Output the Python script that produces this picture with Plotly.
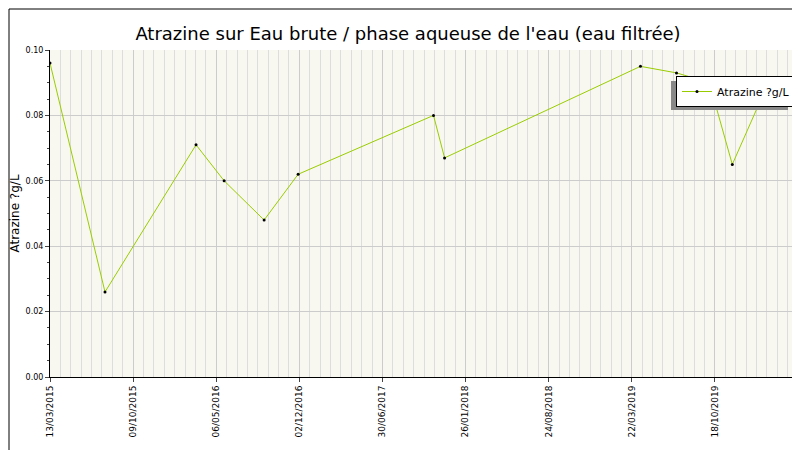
import plotly.graph_objects as go
import pandas as pd

dates = ["2015-03-13","2015-07-30","2016-03-16","2016-05-26","2016-09-04","2016-11-29",
         "2017-11-06","2017-12-04","2019-04-13","2019-07-13","2019-10-04","2019-12-01",
         "2020-03-01","2020-05-15"]
values = [0.096,0.026,0.071,0.060,0.048,0.062,0.080,0.067,0.095,0.093,0.090,0.065,0.090,0.090]
tick_labels = ["13/03/2015","09/10/2015","06/05/2016","02/12/2016","30/06/2017",
               "26/01/2018","24/08/2018","22/03/2019","18/10/2019","15/05/2020"]

tickvals = [pd.to_datetime(t, dayfirst=True) for t in tick_labels]
start, end = pd.Timestamp("2015-03-13"), pd.Timestamp("2020-05-15")
minor = list(pd.date_range(start, end, periods=73))

PW, PH = 748, 327
def px(x): return (x - 42) / PW
def py(y): return (369 - y) / PH

fig = go.Figure()
fig.add_trace(go.Scatter(x=pd.to_datetime(dates), y=values, mode="lines+markers",
    name="Atrazine ?g/L", line=dict(color="#99cc00", width=1),
    marker=dict(color="black", size=3)))
shapes = [
    dict(type="rect", xref="paper", yref="paper", x0=px(1), x1=px(799), y0=py(449), y1=py(1),
         line=dict(color="black", width=1)),
    dict(type="rect", xref="paper", yref="paper", x0=px(663), x1=px(780), y0=py(102), y1=py(73),
         fillcolor="#888888", line=dict(width=0), layer="above"),
]
fig.update_layout(
    width=800, height=450, margin=dict(l=42, r=10, t=42, b=81, autoexpand=False),
    paper_bgcolor="white", plot_bgcolor="#f8f8f0",
    font=dict(family="DejaVu Sans", size=10, color="black"),
    title=dict(text="Atrazine sur Eau brute / phase aqueuse de l'eau (eau filtrée)",
               x=0.5, y=0.958, xanchor="center", font=dict(size=18)),
    xaxis=dict(range=[start, end], tickvals=tickvals, ticktext=tick_labels, tickangle=-90,
               showgrid=True, gridcolor="#cccccc", ticks="outside", ticklen=4, automargin=False,
               minor=dict(tickvals=minor, showgrid=True, gridcolor="#dddddd", ticks=""),
               showline=True, linecolor="black", tickfont=dict(size=9)),
    yaxis=dict(range=[0, 0.1], dtick=0.02, tickformat=".2f", automargin=False,
               title=dict(text="Atrazine ?g/L", font=dict(size=12), standoff=8),
               showgrid=True, gridcolor="#cccccc", ticks="outside", ticklen=4,
               minor=dict(dtick=0.005, ticks="outside", ticklen=2),
               showline=True, linecolor="black", tickfont=dict(size=8)),
    showlegend=True,
    legend=dict(x=px(668), y=py(68), xanchor="left", yanchor="top", bgcolor="white",
                bordercolor="black", borderwidth=1, font=dict(size=11)),
    shapes=shapes,
)
fig.write_html("out.html")
